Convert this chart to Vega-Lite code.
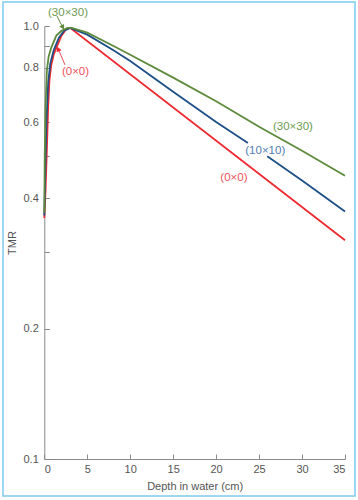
{
  "$schema": "https://vega.github.io/schema/vega-lite/v6.json",
  "width": 352,
  "height": 494,
  "autosize": {"type": "none"},
  "padding": {"left": 3, "top": 2, "right": 3, "bottom": 4},
  "background": "#ffffff",
  "config": {
    "view": {"stroke": "#7dcaee", "strokeWidth": 1.5},
    "font": "Liberation Sans",
    "axis": {
      "grid": false,
      "domainColor": "#8a8a8a",
      "tickColor": "#8a8a8a",
      "labelColor": "#555555",
      "titleColor": "#555555",
      "labelFontSize": 11,
      "titleFontSize": 11,
      "titleFontWeight": "normal",
      "labelFont": "Liberation Sans",
      "titleFont": "Liberation Sans"
    }
  },
  "datasets": {
    "curves": [
      {"series": "0x0", "seg": "a", "depth": 0, "tmr": 0.36},
      {"series": "0x0", "seg": "a", "depth": 0.15, "tmr": 0.42},
      {"series": "0x0", "seg": "a", "depth": 0.3, "tmr": 0.52},
      {"series": "0x0", "seg": "a", "depth": 0.45, "tmr": 0.65},
      {"series": "0x0", "seg": "a", "depth": 0.6, "tmr": 0.75},
      {"series": "0x0", "seg": "a", "depth": 0.8, "tmr": 0.81},
      {"series": "0x0", "seg": "a", "depth": 1.1, "tmr": 0.86},
      {"series": "0x0", "seg": "a", "depth": 1.4, "tmr": 0.89},
      {"series": "0x0", "seg": "a", "depth": 2.0, "tmr": 0.95},
      {"series": "0x0", "seg": "a", "depth": 2.5, "tmr": 0.98},
      {"series": "0x0", "seg": "a", "depth": 3.0, "tmr": 0.99},
      {"series": "0x0", "seg": "a", "depth": 35, "tmr": 0.32},
      {"series": "10x10", "seg": "a", "depth": 0, "tmr": 0.365},
      {"series": "10x10", "seg": "a", "depth": 0.1, "tmr": 0.45},
      {"series": "10x10", "seg": "a", "depth": 0.25, "tmr": 0.6},
      {"series": "10x10", "seg": "a", "depth": 0.45, "tmr": 0.74},
      {"series": "10x10", "seg": "a", "depth": 0.7, "tmr": 0.82},
      {"series": "10x10", "seg": "a", "depth": 1.1, "tmr": 0.88},
      {"series": "10x10", "seg": "a", "depth": 1.7, "tmr": 0.94},
      {"series": "10x10", "seg": "a", "depth": 2.3, "tmr": 0.975},
      {"series": "10x10", "seg": "a", "depth": 3.0, "tmr": 0.99},
      {"series": "10x10", "seg": "a", "depth": 5, "tmr": 0.955},
      {"series": "10x10", "seg": "a", "depth": 8, "tmr": 0.88},
      {"series": "10x10", "seg": "a", "depth": 10, "tmr": 0.83},
      {"series": "10x10", "seg": "a", "depth": 15, "tmr": 0.705},
      {"series": "10x10", "seg": "a", "depth": 20, "tmr": 0.6},
      {"series": "10x10", "seg": "a", "depth": 23.7, "tmr": 0.537},
      {"series": "10x10", "seg": "b", "depth": 25.95, "tmr": 0.5},
      {"series": "10x10", "seg": "b", "depth": 30, "tmr": 0.44},
      {"series": "10x10", "seg": "b", "depth": 35, "tmr": 0.373},
      {"series": "30x30", "seg": "a", "depth": 0, "tmr": 0.37},
      {"series": "30x30", "seg": "a", "depth": 0.05, "tmr": 0.5},
      {"series": "30x30", "seg": "a", "depth": 0.15, "tmr": 0.65},
      {"series": "30x30", "seg": "a", "depth": 0.3, "tmr": 0.79},
      {"series": "30x30", "seg": "a", "depth": 0.5, "tmr": 0.85},
      {"series": "30x30", "seg": "a", "depth": 0.8, "tmr": 0.89},
      {"series": "30x30", "seg": "a", "depth": 1.4, "tmr": 0.95},
      {"series": "30x30", "seg": "a", "depth": 2.0, "tmr": 0.975},
      {"series": "30x30", "seg": "a", "depth": 2.7, "tmr": 0.99},
      {"series": "30x30", "seg": "a", "depth": 3.2, "tmr": 0.99},
      {"series": "30x30", "seg": "a", "depth": 5, "tmr": 0.965},
      {"series": "30x30", "seg": "a", "depth": 8, "tmr": 0.9},
      {"series": "30x30", "seg": "a", "depth": 10, "tmr": 0.858},
      {"series": "30x30", "seg": "a", "depth": 15, "tmr": 0.76},
      {"series": "30x30", "seg": "a", "depth": 20, "tmr": 0.67},
      {"series": "30x30", "seg": "a", "depth": 25, "tmr": 0.585},
      {"series": "30x30", "seg": "a", "depth": 30, "tmr": 0.515},
      {"series": "30x30", "seg": "a", "depth": 35, "tmr": 0.451}
    ],
    "labels": [
      {"series": "30x30", "text": "(30×30)", "depth": 2.76, "tmr": 1.074},
      {"series": "0x0", "text": "(0×0)", "depth": 3.63, "tmr": 0.781},
      {"series": "30x30", "text": "(30×30)", "depth": 28.94, "tmr": 0.585},
      {"series": "10x10", "text": "(10×10)", "depth": 25.72, "tmr": 0.514},
      {"series": "0x0", "text": "(0×0)", "depth": 22.07, "tmr": 0.446}
    ],
    "arrows": [
      {"series": "30x30", "x1": 1.48, "y1": 1.054, "x2": 2.15, "y2": 0.993},
      {"series": "0x0", "x1": 2.41, "y1": 0.813, "x2": 1.62, "y2": 0.885}
    ]
  },
  "layer": [
    {
      "data": {"name": "curves"},
      "mark": {"type": "line", "strokeWidth": 1.8, "clip": false},
      "encoding": {
        "x": {
          "field": "depth", "type": "quantitative",
          "scale": {"domain": [0, 35], "range": [41.3, 342], "nice": false, "zero": false},
          "axis": {
            "title": "Depth in water (cm)",
            "values": [0, 5, 10, 15, 20, 25, 30, 35],
            "format": "d",
            "offset": -37,
            "tickSize": -5,
            "labelPadding": 9,
            "titlePadding": 6
          }
        },
        "y": {
          "field": "tmr", "type": "quantitative",
          "scale": {"type": "log", "domain": [0.1, 1.0], "range": [457, 24], "nice": false},
          "axis": {
            "title": "TMR",
            "values": [0.1, 0.2, 0.3, 0.4, 0.5, 0.6, 0.8, 0.9, 1.0],
            "labelExpr": "(abs(datum.value-0.3)<0.001 || abs(datum.value-0.5)<0.001 || abs(datum.value-0.9)<0.001) ? '' : format(datum.value, '.1f')",
            "offset": -41.3,
            "tickSize": -5,
            "labelPadding": 11,
            "titlePadding": 6
          }
        },
        "color": {
          "field": "series", "type": "nominal",
          "scale": {"domain": ["0x0", "10x10", "30x30"], "range": ["#ee2a30", "#1d4f87", "#5d8a3c"]},
          "legend": null
        },
        "detail": {"field": "seg"},
        "order": {"field": "depth", "type": "quantitative"}
      }
    },
    {
      "data": {"name": "arrows"},
      "mark": {"type": "rule", "strokeWidth": 1},
      "encoding": {
        "x": {"field": "x1", "type": "quantitative"},
        "y": {"field": "y1", "type": "quantitative"},
        "x2": {"field": "x2"},
        "y2": {"field": "y2"},
        "color": {
          "field": "series", "type": "nominal",
          "scale": {"domain": ["0x0", "10x10", "30x30"], "range": ["#f0525a", "#1d4f87", "#5d8a3c"]},
          "legend": null
        }
      }
    },
    {
      "data": {"name": "arrows"},
      "transform": [{"filter": "datum.series == '30x30'"}],
      "mark": {"type": "point", "shape": "triangle-up", "filled": true, "size": 30, "angle": 151, "opacity": 1, "color": "#5d8a3c"},
      "encoding": {
        "x": {"field": "x2", "type": "quantitative"},
        "y": {"field": "y2", "type": "quantitative"}
      }
    },
    {
      "data": {"name": "arrows"},
      "transform": [{"filter": "datum.series == '0x0'"}],
      "mark": {"type": "point", "shape": "triangle-up", "filled": true, "size": 30, "angle": -22, "opacity": 1, "color": "#ee2a30"},
      "encoding": {
        "x": {"field": "x2", "type": "quantitative"},
        "y": {"field": "y2", "type": "quantitative"}
      }
    },
    {
      "data": {"name": "labels"},
      "mark": {"type": "text", "fontSize": 11.5, "align": "center", "baseline": "middle", "font": "Liberation Sans"},
      "encoding": {
        "x": {"field": "depth", "type": "quantitative"},
        "y": {"field": "tmr", "type": "quantitative"},
        "text": {"field": "text"},
        "color": {
          "field": "series", "type": "nominal",
          "scale": {"domain": ["0x0", "10x10", "30x30"], "range": ["#f0525a", "#4f7cae", "#6d9a52"]},
          "legend": null
        }
      }
    }
  ],
  "resolve": {"scale": {"color": "independent"}}
}
